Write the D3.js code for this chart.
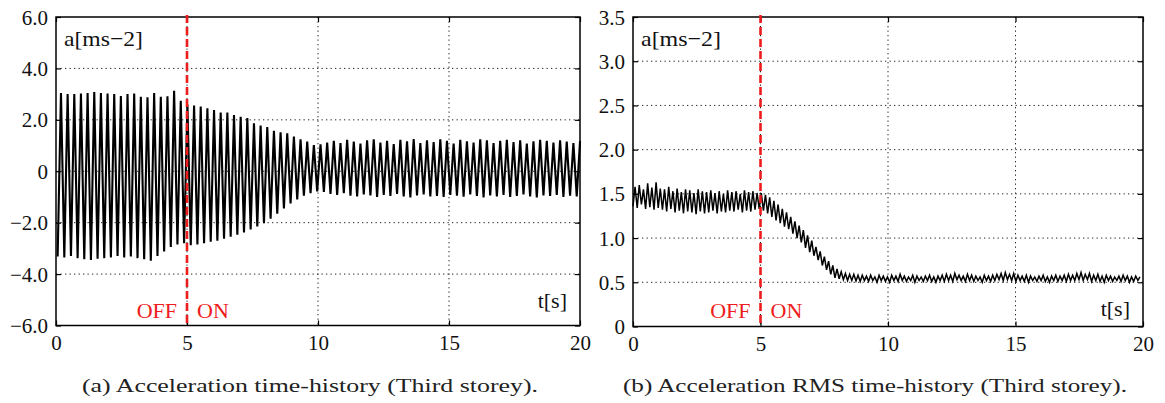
<!DOCTYPE html>
<html>
<head>
<meta charset="utf-8">
<script src="https://cdn.jsdelivr.net/npm/d3@7"></script>
<style>
  html, body { margin: 0; padding: 0; background: #fff; }
  svg { display: block; }
  svg text { font-family: "Liberation Serif", "Times New Roman", Times, serif; }
</style>
</head>
<body>
<svg id="fig" width="1165" height="403"></svg>
<script>
// ---- Panel (a): acceleration time-history, alternating troughs and peaks ----
const accStep = 0.254;          // s between successive peaks
const accTroughT0 = 0.063;      // time of first trough [s]
const accPeakT0 = 0.19;         // time of first peak [s]
const accPeak = [
  3.04, 3.00, 3.00, 3.02, 3.04, 3.08, 3.04, 3.02, 3.00, 2.93,
  3.00, 3.02, 2.90, 2.88, 3.04, 2.90, 2.92, 3.13, 2.74, 2.60,
  2.56, 2.52, 2.45, 2.38, 2.28, 2.28, 2.19, 2.12, 2.07, 1.87,
  1.78, 1.72, 1.57, 1.52, 1.48, 1.35, 1.24, 1.15, 1.02, 1.05,
  1.12, 1.18, 1.10, 1.22, 1.15, 1.08, 1.20, 1.24, 1.12, 1.18,
  1.06, 1.22, 1.16, 1.25, 1.10, 1.20, 1.14, 1.24, 1.18, 1.08,
  1.22, 1.16, 1.12, 1.24, 1.20, 1.10, 1.18, 1.22, 1.14, 1.20,
  1.08, 1.16, 1.22, 1.18, 1.12, 1.20, 1.15, 1.10, 1.18
];
const accTrough = [
  -3.32, -3.35, -3.30, -3.38, -3.42, -3.45, -3.40, -3.38, -3.35, -3.30,
  -3.35, -3.32, -3.38, -3.42, -3.48, -3.30, -3.12, -2.95, -2.85, -2.80,
  -2.88, -2.85, -2.80, -2.74, -2.70, -2.62, -2.55, -2.47, -2.38, -2.26,
  -2.15, -2.02, -1.85, -1.65, -1.45, -1.25, -1.10, -0.95, -0.85, -0.78,
  -0.80, -0.88, -0.92, -0.85, -0.95, -0.98, -0.90, -0.94, -1.00, -0.92,
  -0.96, -0.88, -0.98, -1.02, -0.94, -0.90, -0.98, -0.96, -1.00, -0.92,
  -0.95, -0.99, -0.90, -0.96, -1.02, -0.94, -0.98, -0.92, -1.00, -0.96,
  -0.90, -0.98, -1.02, -0.94, -0.96, -0.92, -1.00, -0.95, -0.98
];
const accYTicks = [-6, -4, -2, 0, 2, 4, 6];
const accYLabels = ["\u22126.0", "\u22124.0", "\u22122.0", "0", "2.0", "4.0", "6.0"];

// ---- Panel (b): RMS time-history, alternating lows and highs ----
const rmsStep = 0.165;
const rmsLoT0 = 0.0;
const rmsHiT0 = 0.08;
const rmsHi = [
  1.58, 1.60, 1.55, 1.62, 1.57, 1.63, 1.56,
  1.55, 1.58, 1.53, 1.56, 1.52, 1.55, 1.54, 1.51, 1.55, 1.53, 1.52,
  1.54, 1.51, 1.53, 1.50, 1.54, 1.52, 1.53, 1.50, 1.54, 1.52, 1.53, 1.51,
  1.51, 1.49, 1.46, 1.42, 1.38, 1.33, 1.29,
  1.24, 1.19, 1.14, 1.09, 1.03, 0.97,
  0.90, 0.85, 0.79, 0.74, 0.69, 0.65,
  0.62, 0.60, 0.59, 0.59, 0.58, 0.58,
  0.57, 0.58, 0.56, 0.58, 0.57, 0.56, 0.58, 0.57, 0.59, 0.57,
  0.56, 0.58, 0.57, 0.56, 0.57, 0.58, 0.56, 0.57, 0.58, 0.59,
  0.58, 0.60, 0.58, 0.57, 0.59, 0.58, 0.57, 0.56, 0.58, 0.57,
  0.58, 0.59, 0.60, 0.61, 0.59, 0.60, 0.58, 0.57, 0.58, 0.57,
  0.56, 0.57, 0.58, 0.56, 0.57, 0.58, 0.57, 0.58, 0.59, 0.58,
  0.60, 0.61, 0.59, 0.60, 0.58, 0.59, 0.57, 0.58, 0.57, 0.56,
  0.57, 0.58, 0.57, 0.56, 0.57, 0.56
];
const rmsLo = [
  1.36, 1.34, 1.38, 1.33, 1.35, 1.32, 1.34,
  1.32, 1.30, 1.33, 1.29, 1.31, 1.28, 1.30, 1.29, 1.27, 1.30, 1.28,
  1.29, 1.31, 1.28, 1.30, 1.29, 1.31, 1.30, 1.32, 1.29, 1.31, 1.30, 1.32,
  1.33, 1.31, 1.28, 1.24, 1.20, 1.17, 1.13,
  1.10, 1.05, 1.00, 0.95, 0.89, 0.84,
  0.80, 0.75, 0.69, 0.64, 0.59, 0.55,
  0.54, 0.53, 0.52, 0.52, 0.515, 0.51,
  0.52, 0.51, 0.52, 0.50, 0.52, 0.51, 0.50, 0.52, 0.51, 0.52,
  0.51, 0.52, 0.50, 0.52, 0.51, 0.52, 0.51, 0.50, 0.52, 0.51,
  0.52, 0.51, 0.53, 0.52, 0.51, 0.52, 0.51, 0.52, 0.50, 0.52,
  0.51, 0.52, 0.53, 0.52, 0.53, 0.52, 0.51, 0.52, 0.51, 0.50,
  0.52, 0.51, 0.52, 0.51, 0.50, 0.52, 0.51, 0.52, 0.51, 0.52,
  0.52, 0.53, 0.52, 0.53, 0.51, 0.52, 0.51, 0.50, 0.52, 0.51,
  0.52, 0.51, 0.52, 0.50, 0.51, 0.52
];
const rmsYTicks = [0, 0.5, 1.0, 1.5, 2.0, 2.5, 3.0, 3.5];
const rmsYLabels = ["0", "0.5", "1.0", "1.5", "2.0", "2.5", "3.0", "3.5"];

const timeTicks = [0, 5, 10, 15, 20];
const timeLabels = ["0", "5", "10", "15", "20"];
const switchTime = 5;

const captions = [
  "(a) Acceleration time-history (Third storey).",
  "(b) Acceleration RMS time-history (Third storey)."
];

// Merge a trough/peak pair of lists into one time-ordered polyline
function zigzag(lows, lowT0, highs, highT0, step) {
  const pts = [];
  const n = Math.max(lows.length, highs.length);
  for (let i = 0; i < n; i++) {
    if (i < lows.length) pts.push([lowT0 + i * step, lows[i]]);
    if (i < highs.length) pts.push([highT0 + i * step, highs[i]]);
  }
  return pts.sort((a, b) => a[0] - b[0]);
}

const svg = d3.select("#fig");
const RED = "#ee1c1c";
const FONT = "Liberation Serif, Times New Roman, Times, serif";

function panel(cfg) {
  const x = d3.scaleLinear().domain([0, 20]).range([cfg.left, cfg.right]);
  const y = d3.scaleLinear().domain(cfg.yDomain).range([cfg.bottom, cfg.top]);
  const g = svg.append("g");

  // dotted grid
  g.append("g").selectAll("line").data(cfg.yTicks.slice(1, -1)).join("line")
    .attr("x1", cfg.left).attr("x2", cfg.right)
    .attr("y1", d => y(d)).attr("y2", d => y(d))
    .attr("stroke", "#222").attr("stroke-width", 1).attr("stroke-dasharray", "1.3,3.2");
  g.append("g").selectAll("line").data(timeTicks.slice(1, -1)).join("line")
    .attr("y1", cfg.top).attr("y2", cfg.bottom)
    .attr("x1", d => x(d)).attr("x2", d => x(d))
    .attr("stroke", "#222").attr("stroke-width", 1).attr("stroke-dasharray", "1.3,3.2");

  // signal
  g.append("path")
    .datum(cfg.points)
    .attr("fill", "none").attr("stroke", "#000")
    .attr("stroke-width", cfg.lineWidth).attr("stroke-linejoin", "miter")
    .attr("d", d3.line().x(d => x(d[0])).y(d => y(d[1])));

  // axes with inward ticks on every side
  const fmtY = d => cfg.yLabels[cfg.yTicks.indexOf(d)];
  const fmtX = d => timeLabels[timeTicks.indexOf(d)];
  const left = g.append("g").attr("transform", `translate(${cfg.left},0)`)
    .call(d3.axisLeft(y).tickValues(cfg.yTicks).tickFormat(fmtY).tickSizeInner(-5).tickSizeOuter(0).tickPadding(8));
  const bottom = g.append("g").attr("transform", `translate(0,${cfg.bottom})`)
    .call(d3.axisBottom(x).tickValues(timeTicks).tickFormat(fmtX).tickSizeInner(-5).tickSizeOuter(0).tickPadding(8));
  const right = g.append("g").attr("transform", `translate(${cfg.right},0)`)
    .call(d3.axisRight(y).tickValues(cfg.yTicks).tickFormat("").tickSizeInner(-5).tickSizeOuter(0));
  const top = g.append("g").attr("transform", `translate(0,${cfg.top})`)
    .call(d3.axisTop(x).tickValues(timeTicks).tickFormat("").tickSizeInner(-5).tickSizeOuter(0));
  [left, bottom, right, top].forEach(a => {
    a.select(".domain").remove();
    a.selectAll(".tick line").attr("stroke", "#000").attr("stroke-width", 1.2);
    a.selectAll("text").attr("font-family", FONT).attr("font-size", 21).attr("fill", "#111");
  });
  left.selectAll("text").attr("dy", "0.34em");
  bottom.selectAll("text").attr("dy", "0.78em");

  // frame
  g.append("rect")
    .attr("x", cfg.left).attr("y", cfg.top)
    .attr("width", cfg.right - cfg.left).attr("height", cfg.bottom - cfg.top)
    .attr("fill", "none").attr("stroke", "#000").attr("stroke-width", 1.5);

  // controller switch
  g.append("line")
    .attr("x1", x(switchTime)).attr("x2", x(switchTime))
    .attr("y1", cfg.top - 2).attr("y2", cfg.bottom)
    .attr("stroke", RED).attr("stroke-width", 2.6).attr("stroke-dasharray", "8,4");
  g.append("text").attr("x", x(switchTime) - 10).attr("y", cfg.offY)
    .attr("text-anchor", "end").attr("font-size", 22).attr("fill", RED).text("OFF");
  g.append("text").attr("x", x(switchTime) + 10).attr("y", cfg.offY)
    .attr("font-size", 22).attr("fill", RED).text("ON");

  // axis quantities
  g.append("text").attr("x", cfg.left + 8).attr("y", cfg.top + 29)
    .attr("font-size", 22).attr("fill", "#111")
    .attr("textLength", cfg.aW).attr("lengthAdjust", "spacingAndGlyphs").text("a[ms\u22122]");
  g.append("text").attr("x", cfg.right - 13).attr("y", cfg.tY)
    .attr("text-anchor", "end").attr("font-size", 22).attr("fill", "#111").text("t[s]");

  // caption
  g.append("text").attr("x", cfg.capX).attr("y", 392)
    .attr("font-size", 19).attr("fill", "#222")
    .attr("textLength", cfg.capW).attr("lengthAdjust", "spacingAndGlyphs")
    .text(cfg.caption);
}

panel({
  left: 56, right: 580, top: 17, bottom: 325.5,
  yDomain: [-6, 6], yTicks: accYTicks, yLabels: accYLabels,
  points: zigzag(accTrough, accTroughT0, accPeak, accPeakT0, accStep),
  lineWidth: 2.1, offY: 318, tY: 308, aW: 79,
  caption: captions[0], capX: 82, capW: 456
});
panel({
  left: 633, right: 1143, top: 17, bottom: 326.5,
  yDomain: [0, 3.5], yTicks: rmsYTicks, yLabels: rmsYLabels,
  points: zigzag(rmsLo, rmsLoT0, rmsHi, rmsHiT0, rmsStep),
  lineWidth: 1.5, offY: 318, tY: 316, aW: 80,
  caption: captions[1], capX: 623, capW: 504
});
</script>
</body>
</html>
